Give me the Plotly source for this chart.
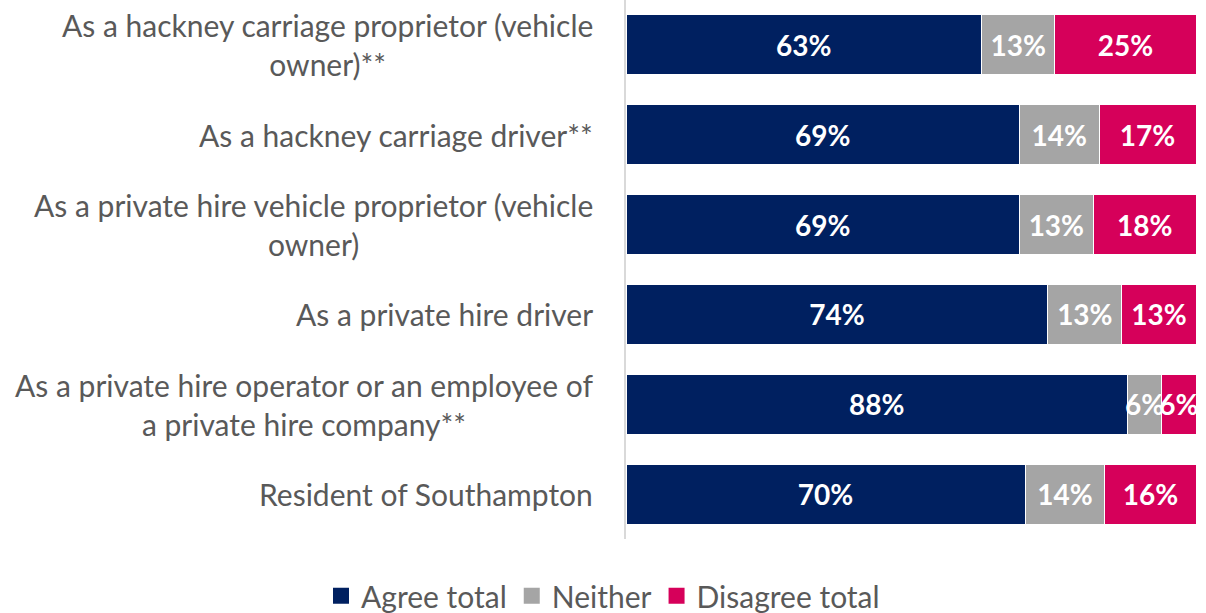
import plotly.graph_objects as go

# Survey respondent groups (top to bottom)
categories = [
    "As a hackney carriage proprietor (vehicle<br>owner)**",
    "As a hackney carriage driver**",
    "As a private hire vehicle proprietor (vehicle<br>owner)",
    "As a private hire driver",
    "As a private hire operator or an employee of<br>a private hire company**",
    "Resident of Southampton",
]
category_keys = ["g1", "g2", "g3", "g4", "g5", "g6"]

agree_total = [63, 69, 69, 74, 88, 70]
neither = [13, 14, 13, 13, 6, 14]
disagree_total = [25, 17, 18, 13, 6, 16]

series = [
    ("Agree total", agree_total, "#002060"),
    ("Neither", neither, "#A5A5A5"),
    ("Disagree total", disagree_total, "#D6005A"),
]

fig = go.Figure()
for name, values, color in series:
    fig.add_trace(go.Bar(
        name=name,
        y=category_keys,
        x=values,
        orientation="h",
        marker=dict(color=color, line=dict(color="#FFFFFF", width=1)),
        text=[f"{v}%" for v in values],
        textposition="inside",
        insidetextanchor="middle",
        textangle=0,
        constraintext="none",
        textfont=dict(family="Lato", size=28, color="#FFFFFF", weight="bold"),
        hoverinfo="skip",
        showlegend=False,
    ))

# Legend entries with larger square swatches
for name, _, color in series:
    fig.add_trace(go.Scatter(
        name=name, x=[None], y=[None], mode="markers",
        marker=dict(symbol="square", size=20, color=color),
        showlegend=True, hoverinfo="skip",
    ))

# Category labels drawn as centred multi-line text blocks left of the axis
for key, label in zip(category_keys, categories):
    fig.add_annotation(
        x=-0.054, xref="paper", y=key, yref="y",
        text=label, showarrow=False,
        xanchor="right", yanchor="middle", align="center",
        font=dict(family="Lato", size=30, color="#595959"),
    )

fig.update_layout(
    width=1206, height=613,
    barmode="stack", barnorm="percent", bargap=1/3,
    plot_bgcolor="#FFFFFF", paper_bgcolor="#FFFFFF",
    margin=dict(l=626, r=10, t=0, b=74),
    xaxis=dict(visible=False, range=[0, 100], fixedrange=True),
    yaxis=dict(
        autorange="reversed", showticklabels=False, ticks="",
        showgrid=False, zeroline=False,
        showline=True, linecolor="#D9D9D9", linewidth=2,
    ),
    showlegend=True,
    legend=dict(
        orientation="h", xref="container", yref="container",
        x=0.5, xanchor="center", y=0.028, yanchor="middle",
        font=dict(family="Lato", size=30, color="#595959"),
        traceorder="normal", itemclick=False, itemwidth=30,
    ),
)

fig.write_html("out.html")
